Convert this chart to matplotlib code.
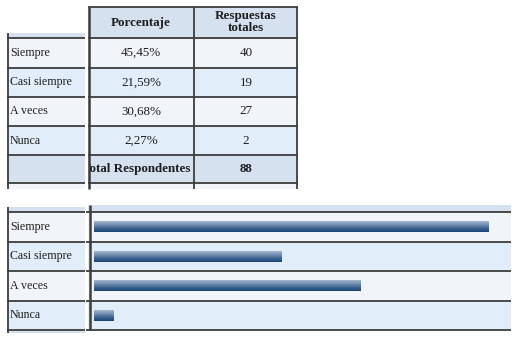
import numpy as np
import matplotlib
matplotlib.use('Agg')
import matplotlib.pyplot as plt
from matplotlib.patches import Rectangle
from matplotlib.colors import LinearSegmentedColormap
from matplotlib.transforms import Bbox, TransformedBbox

# datos de la encuesta
categorias = ['Siempre', 'Casi siempre', 'A veces', 'Nunca']
porcentajes = [45.45, 21.59, 30.68, 2.27]
respuestas = [40, 19, 27, 2]
total_respondentes = 88
encabezados = ['Porcentaje', 'Respuestas\ntotales']

plt.rcParams['font.family'] = ['Liberation Serif', 'DejaVu Serif']

W, H = 517, 345
fig = plt.figure(figsize=(W / 100, H / 100), dpi=100)
ax = fig.add_axes([0, 0, 1, 1])
ax.set_xlim(0, W)
ax.set_ylim(H, 0)
ax.axis('off')

linea = '#3d3d3d'
claro = '#f1f4f9'
azul = '#e1edf8'
cabecera = '#d5e1ef'
texto = '#1e1e1e'
fs = 8.6      # etiquetas
fsn = 9.4     # numeros
fsb = 9.4     # negritas


def caja(x0, y0, x1, y1, color):
    ax.add_patch(Rectangle((x0, y0), x1 - x0, y1 - y0, facecolor=color,
                           edgecolor='none'))


def hline(y, x0, x1, lw=1.3):
    ax.plot([x0, x1], [y, y], color=linea, lw=lw, solid_capstyle='butt')


def vline(x, y0, y1, lw=1.3):
    ax.plot([x, x], [y0, y1], color=linea, lw=lw, solid_capstyle='butt')


# ---- tabla ----
bordes = [38, 68, 97, 126, 155, 183]
caja(88, 7, 297, 38, cabecera)
caja(7, 33, 85, 38, cabecera)
for i in range(len(categorias)):
    y0, y1 = bordes[i], bordes[i + 1]
    c = claro if i % 2 == 0 else azul
    caja(7, y0, 85, y1, c)
    caja(88, y0, 297, y1, c)
    ym = (y0 + y1) / 2
    ax.text(10, ym, categorias[i], fontsize=fs, color=texto, va='center', ha='left')
    ax.text(141, ym, f'{porcentajes[i]:.2f}%'.replace('.', ','), fontsize=fsn,
            color=texto, va='center', ha='center')
    ax.text(246, ym, str(respuestas[i]), fontsize=fsn, color=texto,
            va='center', ha='center')
caja(7, 155, 85, 183, cabecera)
caja(88, 155, 297, 183, cabecera)
caja(7, 183, 85, 189, claro)
caja(88, 183, 297, 189, claro)

ax.text(141, 23, encabezados[0], fontsize=fsb, fontweight='bold', color=texto,
        ha='center', va='center')
ax.text(246, 22, encabezados[1], fontsize=fsb, fontweight='bold', color=texto,
        ha='center', va='center', linespacing=0.95)

# "Total Respondentes" queda cortado por el borde de la celda
t = ax.text(136, 169, 'Total Respondentes', fontsize=fsb, fontweight='bold',
            color=texto, ha='center', va='center')
t.set_clip_on(True)
t.set_clip_box(TransformedBbox(Bbox([[90, 150], [194, 188]]), ax.transData))
ax.text(246, 169, str(total_respondentes), fontsize=fsb, fontweight='bold',
        color=texto, ha='center', va='center')

hline(7, 88, 298)
for y in bordes:
    hline(y, 88, 298)
    hline(y, 7, 85)
vline(8, 33, 189)
vline(89, 7, 189, lw=1.8)
vline(194, 7, 189)
vline(297, 7, 189)

# ---- grafico de barras ----
filas = [212, 242, 271, 301, 330]
caja(88, 205, 511, 212, cabecera)
caja(7, 207, 85, 212, cabecera)
for i in range(len(categorias)):
    y0, y1 = filas[i], filas[i + 1]
    c = claro if i % 2 == 0 else azul
    caja(7, y0, 85, y1, c)
    caja(88, y0, 511, y1, c)
    ax.text(10, (y0 + y1) / 2, categorias[i], fontsize=fs, color=texto,
            va='center', ha='left')
caja(7, 330, 85, 333, cabecera)
for y in filas:
    hline(y, 86, 511)
    hline(y, 7, 85)
vline(8, 207, 333)
vline(90, 205, 330, lw=1.8)

axb = fig.add_axes([91 / W, (H - 330) / H, 420 / W, 118 / H])
axb.patch.set_alpha(0)
axb.axis('off')

degradado = LinearSegmentedColormap.from_list(
    'barra', ['#a4b6cb', '#7390b2', '#3d6491', '#1a4473'])
grad = np.linspace(0, 1, 64).reshape(-1, 1)

pos = np.arange(len(categorias))
barras = axb.barh(pos, porcentajes, height=0.37, color='none', edgecolor='none')
for b in barras:
    x0, y0 = b.get_x(), b.get_y()
    axb.imshow(grad, extent=[x0, x0 + b.get_width(), y0 + b.get_height(), y0],
               aspect='auto', cmap=degradado, interpolation='bilinear')

axb.set_xlim(-0.35, 47.98)
axb.set_ylim(3.5, -0.5)

fig.savefig('out.png', dpi=100)
